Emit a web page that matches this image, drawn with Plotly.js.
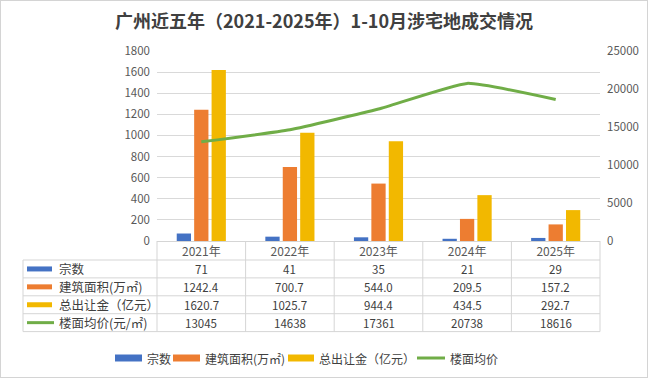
<!DOCTYPE html>
<html>
<head>
<meta charset="utf-8">
<script src="https://cdn.plot.ly/plotly-3.0.1.min.js"></script>
<style>
html,body{margin:0;padding:0;background:#fff;}
#wrap{position:relative;width:648px;height:378px;}
#chart{width:648px;height:378px;}
#frame{position:absolute;left:0;top:0;width:648px;height:378px;box-sizing:border-box;border:1px solid #d4d4d4;pointer-events:none;}
</style>
</head>
<body>
<div id="wrap"><div id="chart"></div><div id="frame"></div></div>
<script>
// ---- data ----
const years = ['2021年','2022年','2023年','2024年','2025年'];
const counts = [71, 41, 35, 21, 29];
const area = [1242.4, 700.7, 544.0, 209.5, 157.2];
const revenue = [1620.7, 1025.7, 944.4, 434.5, 292.7];
const price = [13045, 14638, 17361, 20738, 18616];
const seriesNames = ['宗数', '建筑面积(万㎡)', '总出让金（亿元）', '楼面均价'];
const rowLabels = ['宗数', '建筑面积(万㎡)', '总出让金（亿元）', '楼面均价(元/㎡)'];
const rowDecimals = [0, 1, 1, 0];
const titleText = '广州近五年（2021-2025年）1-10月涉宅地成交情况';

// ---- styling ----
const colors = ['#4472C4', '#ED7D31', '#F2B800', '#70AD47'];
const FONT = '"Noto Sans CJK SC", "Noto Sans", sans-serif';
const L = 157, R = 600, T = 51, B = 241, W = 648, H = 378;
const px = x => (x - L) / (R - L);
const py = y => (B - y) / (B - T);

const traces = [
  {type:'bar', x:years, y:counts, name:seriesNames[0], marker:{color:colors[0]}},
  {type:'bar', x:years, y:area, name:seriesNames[1], marker:{color:colors[1]}},
  {type:'bar', x:years, y:revenue, name:seriesNames[2], marker:{color:colors[2]}},
  {type:'scatter', mode:'lines', x:years, y:price, name:seriesNames[3], yaxis:'y2',
   line:{color:colors[3], width:3, shape:'spline', smoothing:0.4}}
];

const shapes = [];
const annotations = [];
const gridC = '#D5D5D5';
// table geometry
const rowTop = 260, rowH = 17.9, nRows = 4;
const tableBottom = rowTop + rowH * nRows;
for (let r = 0; r <= nRows; r++) {
  const y = rowTop + r * rowH;
  shapes.push({type:'line', xref:'paper', yref:'paper', x0:px(23), x1:px(R), y0:py(y), y1:py(y), line:{color:gridC, width:1}});
}
shapes.push({type:'line', xref:'paper', yref:'paper', x0:px(23), x1:px(23), y0:py(rowTop), y1:py(tableBottom), line:{color:gridC, width:1}});
for (let k = 0; k <= years.length; k++) {
  const x = L + k * (R - L) / years.length;
  shapes.push({type:'line', xref:'paper', yref:'paper', x0:px(x), x1:px(x), y0:py(B), y1:py(tableBottom), line:{color:gridC, width:1}});
}
const rowData = [counts, area, revenue, price];
for (let r = 0; r < nRows; r++) {
  const yc = rowTop + rowH * (r + 0.5);
  if (r < 3) {
    shapes.push({type:'rect', xref:'paper', yref:'paper', x0:px(27), x1:px(52), y0:py(yc - 2.5), y1:py(yc + 2.5), line:{width:0}, fillcolor:colors[r]});
  } else {
    shapes.push({type:'line', xref:'paper', yref:'paper', x0:px(27), x1:px(54), y0:py(yc), y1:py(yc), line:{color:colors[r], width:3}});
  }
  annotations.push({xref:'paper', yref:'paper', x:px(57), y:py(yc), xanchor:'left', yanchor:'middle', showarrow:false,
    text:rowLabels[r], font:{family:FONT, size:12.5, color:'#404040'}});
  rowData[r].forEach((v, i) => {
    annotations.push({xref:'x', yref:'paper', x:years[i], y:py(yc), xanchor:'center', yanchor:'middle', showarrow:false,
      text:v.toFixed(rowDecimals[r]), font:{family:FONT, size:11.5, color:'#404040'}});
  });
}
// bottom legend
const legY = 358;
const legKeys = [[115, 142], [173, 200], [288, 314], [417, 445]];
seriesNames.forEach((n, i) => {
  const [a, b] = legKeys[i];
  if (i < 3) {
    shapes.push({type:'rect', xref:'paper', yref:'paper', x0:px(a), x1:px(b), y0:py(legY - 3.5), y1:py(legY + 3.5), line:{width:0}, fillcolor:colors[i]});
  } else {
    shapes.push({type:'line', xref:'paper', yref:'paper', x0:px(a), x1:px(b), y0:py(legY), y1:py(legY), line:{color:colors[i], width:3}});
  }
  annotations.push({xref:'paper', yref:'paper', x:px(b + 3), y:py(legY), xanchor:'left', yanchor:'middle', showarrow:false,
    text:n, font:{family:FONT, size:12, color:'#404040'}});
});

const layout = {
  width:W, height:H,
  margin:{l:L, r:W - R, t:T, b:H - B, pad:0},
  paper_bgcolor:'#ffffff', plot_bgcolor:'#ffffff',
  font:{family:FONT, color:'#595959'},
  title:{text:titleText, x:0.5, xref:'container', xanchor:'center', y:1 - 22 / H, yref:'container', yanchor:'middle',
    font:{family:FONT, size:18, color:'#404040', weight:'bold'}},
  showlegend:false,
  barmode:'group', bargap:0.41, bargroupgap:0.18,
  xaxis:{type:'category', showgrid:false, showline:true, linecolor:gridC, linewidth:1, ticks:'', ticklen:0,
    tickfont:{family:FONT, size:12, color:'#595959'}, fixedrange:true},
  yaxis:{range:[0, 1800], dtick:200, tickformat:'d', showgrid:true, gridcolor:'#D9D9D9', gridwidth:1, zeroline:false,
    showline:false, ticks:'', tickfont:{family:FONT, size:11.5, color:'#595959'}, ticklabelstandoff:6},
  yaxis2:{range:[0, 25000], dtick:5000, tickformat:'d', overlaying:'y', side:'right', showgrid:false, zeroline:false,
    showline:false, ticks:'', tickfont:{family:FONT, size:11.5, color:'#595959'}, ticklabelstandoff:6},
  shapes:shapes, annotations:annotations
};

Plotly.newPlot('chart', traces, layout, {displayModeBar:false, staticPlot:true});
</script>
</body>
</html>
